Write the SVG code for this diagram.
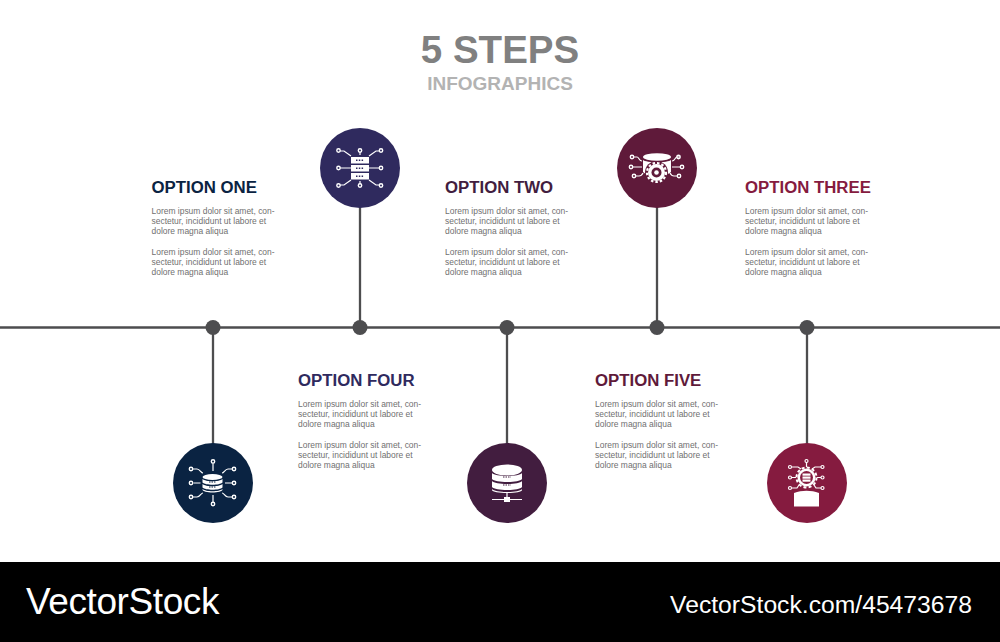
<svg xmlns="http://www.w3.org/2000/svg" width="1000" height="642" viewBox="0 0 1000 642">
<style>
text{font-family:"Liberation Sans",Arial,sans-serif}
.h{font-size:16.8px;font-weight:700}
.b{font-size:8.46px;fill:#707070}
.ln{stroke:#4d4d4f;stroke-width:2.3;fill:none}
.dot{fill:#4d4d4f}
.w{fill:#fff}
.s{fill:none;stroke:#fff;stroke-width:1.2}
.o{fill:none;stroke:#fff;stroke-width:1.4}
</style>
<defs>
<g id="paras">
<text class="b" y="0">Lorem ipsum dolor sit amet, con-</text>
<text class="b" y="10.200">sectetur, incididunt ut labore et</text>
<text class="b" y="20.400">dolore magna aliqua</text>
<text class="b" y="41.200">Lorem ipsum dolor sit amet, con-</text>
<text class="b" y="51.400">sectetur, incididunt ut labore et</text>
<text class="b" y="61.600">dolore magna aliqua</text>
</g>
</defs>
<rect width="1000" height="642" fill="#fff"/>
<text x="500" y="63" text-anchor="middle" font-size="38.500" font-weight="700" fill="#808080">5 STEPS</text>
<text x="500" y="90" text-anchor="middle" font-size="19" font-weight="700" fill="#b3b3b3">INFOGRAPHICS</text>

<g id="connectors">
<path class="ln" d="M0 327.500H1000M213 328V445M360 205V328M507 328V445M657 205V328M807 328V445"/>
<circle class="dot" cx="213" cy="327.500" r="7.500"/>
<circle class="dot" cx="360" cy="327.500" r="7.500"/>
<circle class="dot" cx="507" cy="327.500" r="7.500"/>
<circle class="dot" cx="657" cy="327.500" r="7.500"/>
<circle class="dot" cx="807" cy="327.500" r="7.500"/>
</g>

<g id="node-one">
<circle cx="213" cy="483" r="40" fill="#0a2342"/>
<ellipse class="w" cx="212.500" cy="477" rx="10" ry="3"/>
<path class="w" d="M202.500 479c3 3 17 3 20 0v3.500c-3 3-17 3-20 0z"/>
<path class="w" d="M202.500 484c3 3 17 3 20 0v3.500c-3 3-17 3-20 0z"/>
<path class="w" d="M202.500 489c3 3 17 3 20 0v0.500c0 4-20 4-20 0z"/>
<path d="M209 482h7M209 487h7" stroke="#0a2342" stroke-width="1" stroke-dasharray="1.500 1"/>
<path class="s" d="M213 464v7M213 502v-7M193.500 483h7M232 483h-7M193 469h4c3 0 4 4 6 4M232 469h-4c-3 0-4 4-6 4M193 497h4c3 0 4-4 6-4M232 497h-4c-3 0-4-4-6-4"/>
<circle class="o" cx="213" cy="461.500" r="1.700"/><circle class="o" cx="213" cy="504" r="1.700"/>
<circle class="o" cx="191" cy="469" r="1.700"/><circle class="o" cx="234" cy="469" r="1.700"/>
<circle class="o" cx="191" cy="483" r="1.700"/><circle class="o" cx="234" cy="483" r="1.700"/>
<circle class="o" cx="191" cy="497" r="1.700"/><circle class="o" cx="234" cy="497" r="1.700"/>
<text class="h" x="151.500" y="193" fill="#0a2342">OPTION ONE</text>
<use href="#paras" x="151.500" y="213.500"/>
</g>

<g id="node-two">
<circle cx="507" cy="483" r="40" fill="#421d3f"/>
<ellipse class="w" cx="507" cy="470" rx="15" ry="5.500"/>
<path class="w" d="M492 473c3 4 27 4 30 0v6c-3 4-27 4-30 0z"/>
<path class="w" d="M492 481c3 4 27 4 30 0v6c-3 4-27 4-30 0z"/>
<path class="w" d="M492 489c3 4 27 4 30 0v1c0 4-30 4-30 0z"/>
<path d="M503 477h8M503 485h8M503 491.500h8" stroke="#421d3f" stroke-width="1.100" stroke-dasharray="1.500 1"/>
<path class="s" d="M507 493v6M492 499.500h30"/>
<rect class="w" x="504" y="497" width="6" height="5"/>
<text class="h" x="445" y="193" fill="#421d3f">OPTION TWO</text>
<use href="#paras" x="445" y="213.500"/>
</g>

<g id="node-three">
<circle cx="807" cy="483" r="40" fill="#851b3f"/>
<circle class="w" cx="806.500" cy="477.500" r="9"/>
<circle cx="806.500" cy="477.500" r="10" fill="none" stroke="#fff" stroke-width="2" stroke-dasharray="3 2.230"/>
<circle cx="806.500" cy="477.500" r="6.500" fill="#851b3f"/>
<rect class="w" x="802.500" y="473.500" width="8" height="2.200"/><rect class="w" x="802.500" y="476.500" width="8" height="2.200"/><rect class="w" x="802.500" y="479.500" width="8" height="2.200"/>
<path class="s" d="M806.500 467v-5M792 467h6l3 2M821 467h-6l-3 2M792 477.500h4M821 477.500h-4M792 488h5l2-3M821 488h-5l-2-3"/>
<circle class="s" cx="806.500" cy="461" r="1.500"/>
<circle class="s" cx="790" cy="467" r="1.500"/><circle class="s" cx="822.500" cy="467" r="1.500"/>
<circle class="s" cx="790" cy="477.500" r="1.500"/><circle class="s" cx="822.500" cy="477.500" r="1.500"/>
<circle class="s" cx="790" cy="488" r="1.500"/><circle class="s" cx="822.500" cy="488" r="1.500"/>
<path class="w" d="M794 493c8-3 17-3 25 0v13.500h-25z"/>
<text class="h" x="745" y="193" fill="#851b3f">OPTION THREE</text>
<use href="#paras" x="745" y="213.500"/>
</g>

<g id="node-four">
<circle cx="360" cy="168" r="40" fill="#2f2a5e"/>
<rect class="w" x="351" y="157" width="18" height="6.500"/><rect class="w" x="351" y="165" width="18" height="6.500"/><rect class="w" x="351" y="173" width="18" height="6.500"/>
<path d="M356 160.300h8M356 168.300h8M356 176.300h8" stroke="#2f2a5e" stroke-width="1.500" stroke-dasharray="1.500 1.300"/>
<path class="s" d="M360 155v-3M351 168h-11M369 168h11M360 181v3M340 151h4l7 5M380 151h-4l-7 5M340 185h4l7-5M380 185h-4l-7-5"/>
<circle class="o" cx="360" cy="150.500" r="1.700"/><circle class="o" cx="360" cy="185.500" r="1.700"/>
<circle class="o" cx="338.500" cy="150.500" r="1.700"/><circle class="o" cx="381" cy="150.500" r="1.700"/>
<circle class="o" cx="338.500" cy="168" r="1.700"/><circle class="o" cx="381" cy="168" r="1.700"/>
<circle class="o" cx="338.500" cy="185.500" r="1.700"/><circle class="o" cx="381" cy="185.500" r="1.700"/>
<text class="h" x="298" y="386" fill="#2f2a5e">OPTION FOUR</text>
<use href="#paras" x="298" y="406.500"/>
</g>

<g id="node-five">
<circle cx="657" cy="168" r="40" fill="#5f1a3a"/>
<ellipse class="w" cx="657" cy="157" rx="14" ry="3.800"/>
<path class="w" d="M643 160c3 3 25 3 28 0v12c-2 2-5 3-8 3h-12c-3 0-6-1-8-3z"/>
<circle cx="656.500" cy="172.500" r="11.500" fill="#5f1a3a"/>
<circle class="w" cx="656.500" cy="172.500" r="8.500"/>
<circle cx="656.500" cy="172.500" r="9.500" fill="none" stroke="#fff" stroke-width="2.200" stroke-dasharray="2.500 2"/>
<circle cx="656.500" cy="172.500" r="5" fill="#5f1a3a"/>
<circle class="w" cx="656.500" cy="172.500" r="2.300"/>
<path class="s" d="M634 157h3c2 0 2 4 5 4M680 157h-3c-2 0-2 4-5 4M633 167h9M680 167h-8M636 176h3c2 0 3-1 4-3M677 176h-3c-2 0-3-1-4-3"/>
<circle class="o" cx="632" cy="157" r="1.700"/><circle class="o" cx="678.500" cy="157" r="1.700"/>
<circle class="o" cx="631" cy="167" r="1.700"/><circle class="o" cx="682" cy="167" r="1.700"/>
<circle class="o" cx="634" cy="176" r="1.700"/><circle class="o" cx="679" cy="176" r="1.700"/>
<text class="h" x="595" y="386" fill="#5f1a3a">OPTION FIVE</text>
<use href="#paras" x="595" y="406.500"/>
</g>

<rect x="0" y="562" width="1000" height="80" fill="#000"/>
<text x="26" y="613.500" font-size="37" fill="#fff" letter-spacing="-0.400">VectorStock</text>
<text x="972" y="612.500" text-anchor="end" font-size="24.700" fill="#fff">VectorStock.com/45473678</text>
</svg>
